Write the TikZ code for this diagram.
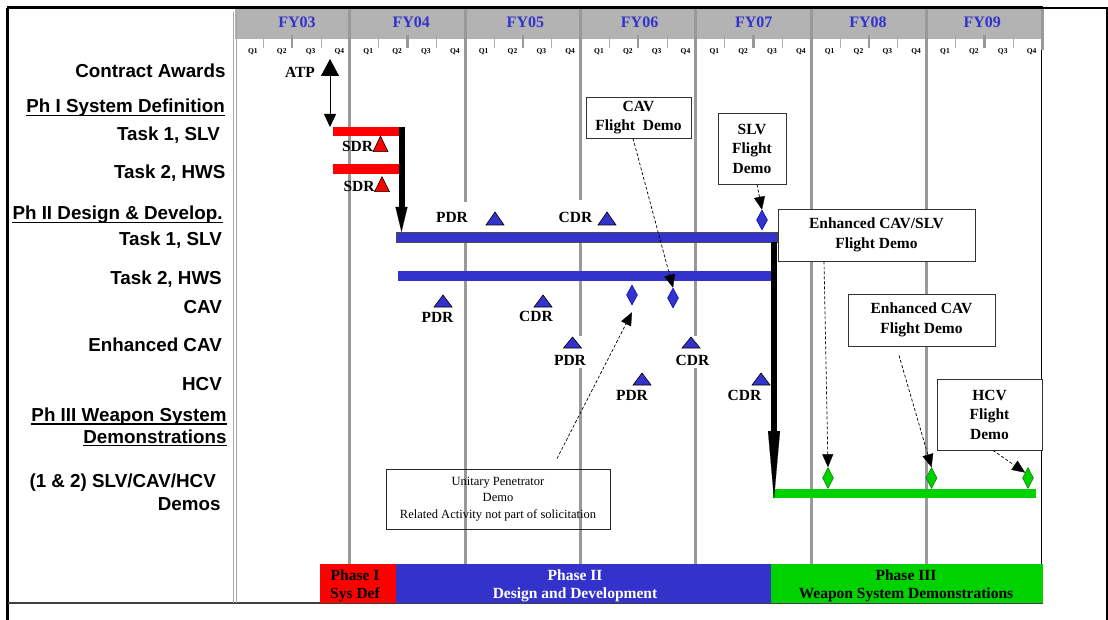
\documentclass[tikz,border=0pt]{standalone}
\usepackage{fontspec}
\setmainfont{Liberation Serif}
\newfontfamily\sansf{Liberation Sans}
\usetikzlibrary{arrows.meta,shapes.geometric}
\definecolor{pblue}{RGB}{51,51,204}
\definecolor{pgreen}{RGB}{0,210,0}
\definecolor{gridg}{RGB}{153,153,153}
\definecolor{bandg}{RGB}{179,179,179}
\newcommand\mtri[5]{\filldraw[fill=#1,draw=black,line width=0.6] ({#2-#5/2},#3) -- ({#2+#5/2},#3) -- (#2,#4) -- cycle;}
\begin{document}
\begin{tikzpicture}[x=1pt,y=-1pt,
  rowlbl/.style={anchor=base east,inner sep=0,font=\sansf\bfseries\fontsize{18.8}{22}\selectfont},
  ms/.style={anchor=base,inner sep=0,font=\bfseries\fontsize{15.5}{18}\selectfont},
  fylbl/.style={anchor=base,inner sep=0,text=pblue,font=\bfseries\fontsize{16}{18}\selectfont},
  qlbl/.style={anchor=base,inner sep=0,font=\bfseries\fontsize{7.5}{9}\selectfont},
  callout/.style={draw=black!80,line width=0.9,fill=white,align=center,inner sep=0,font=\bfseries\fontsize{15.5}{19.5}\selectfont},
  dasharrow/.style={line width=0.7,dash pattern=on 3pt off 2pt,-{Triangle[length=13pt,width=11pt,line width=0.3pt]}},
  gridl/.style={draw=gridg,line width=3},
  diam/.style={diamond,inner sep=0,minimum width=11pt,minimum height=20pt,line width=0.5},
  phbox/.style={inner sep=0,minimum height=39pt},
  phase/.style={inner sep=0,align=center,font=\bfseries\fontsize{15.5}{18}\selectfont},
  uline/.style={line width=1.8}
]
\useasboundingbox (0,0) rectangle (1108,620);
\fill[white] (0,0) rectangle (1108,620);
% frame
\draw[line width=3] (7,8) -- (1043,8);
\draw[line width=1.2] (1043,8) -- (1107,8) -- (1107,620);
\draw[line width=3] (7,8) -- (7,620);
\draw[line width=1.2,draw=black!75] (8,603) -- (1043,603);
% header band
\fill[bandg] (234.5,9) rectangle (1043,39);
\foreach \i in {0,...,6}{
  \foreach \q in {1,3}{\draw[draw=gridg!80,line width=1] ({234.5+115.35*\i+28.84*\q},35) -- ({234.5+115.35*\i+28.84*\q},48);}
  \draw[draw=gridg,line width=2.5] ({234.5+115.35*\i+57.68},35) -- ({234.5+115.35*\i+57.68},48);
}
% grid lines
\foreach \i in {1,...,6}{\draw[gridl] ({234.5+115.35*\i},9) -- ({234.5+115.35*\i},564);}
\draw[gridl] (1042,9) -- (1042,50);
\draw[line width=0.9] (1041,50) -- (1041,564);
\draw[draw=black!35,line width=1] (233,12) -- (233,603);
\draw[draw=black!35,line width=1] (236.5,12) -- (236.5,603);
% FY and Q labels
\foreach \i/\t in {0/03,1/04,2/05,3/06,4/07,5/08,6/09}{\node[fylbl] (fy\i) at ({297+114.2*\i},27.3) {FY\t};}
\foreach \i in {0,...,6}{\foreach \q in {1,...,4}{\node[qlbl] (q\i\q) at ({234.5+115.35*\i+28.84*(\q-0.5)+4},54) {Q\q};}}
% white gaps behind milestone labels
\fill[white] (436,202) rectangle (470,232);
\fill[white] (557,200) rectangle (596,232);
\fill[white] (553,336) rectangle (590,368);
\fill[white] (674,336) rectangle (711,368);
% bars
\fill[red] (333,127) rectangle (399,136);
\fill[red] (333,164) rectangle (399,174);
\filldraw[fill=pblue,draw=black!70,line width=0.8] (396,232) rectangle (777,242);
\fill[pblue] (398,271) rectangle (772,281);
\fill[pgreen] (773,489) rectangle (1036,498);
% ATP
\node[ms] (atp) at (300,78) {ATP};
\coordinate (atpT) at (330,59);
\coordinate (atpB) at (330,127);
\draw[line width=0.8,{Triangle[length=17pt,width=18pt]}-{Triangle[length=13pt,width=12pt]}] (atpT) -- (atpB);
% thick arrows
\coordinate (a1s) at (401.5,127);
\coordinate (a1e) at (401.5,232);
\draw[line width=6,-{Triangle[length=25pt,width=12pt,line width=0.1pt]}] (a1s) -- (a1e);
\coordinate (a2s) at (774,242);
\coordinate (a2e) at (774,499);
\draw[line width=6,-{Triangle[length=68pt,width=12pt,line width=0.1pt]}] (a2s) -- (a2e);
% SDR
\node[ms] (sdr1) at (357.5,151.7) {SDR};
\mtri{red}{380.5}{151.7}{136}{15}
\node[ms] (sdr2) at (359,191.5) {SDR};
\mtri{red}{382}{191.7}{176.7}{15}
% Phase II milestones
\node[ms] (pdr1) at (452,223) {PDR};
\mtri{pblue}{495}{225}{212}{18}
\node[ms] (cdr1) at (575.5,223) {CDR};
\mtri{pblue}{607}{225}{212}{18}
\mtri{pblue}{443}{307}{295}{18}
\node[ms] (pdr2) at (437.5,323) {PDR};
\mtri{pblue}{543}{307}{295}{18}
\node[ms] (cdr2) at (536,321.7) {CDR};
\mtri{pblue}{572.5}{348}{337}{18}
\node[ms] (pdr3) at (570,365) {PDR};
\mtri{pblue}{691}{348}{337}{18}
\node[ms] (cdr3) at (692.5,365) {CDR};
\mtri{pblue}{642}{385}{373}{18}
\node[ms] (pdr4) at (632,400) {PDR};
\mtri{pblue}{761}{385}{373}{18}
\node[ms] (cdr4) at (744.5,400) {CDR};
% diamonds
\node[diam,fill=pblue,draw=blue!70!black] (dslv) at (762,220) {};
\node[diam,fill=pblue,draw=blue!70!black] (dcav1) at (632,295) {};
\node[diam,fill=pblue,draw=blue!70!black] (dcav2) at (673,298) {};
\node[diam,fill=pgreen,draw=green!50!black,minimum height=21pt] (g1) at (828,478) {};
\node[diam,fill=pgreen,draw=green!50!black,minimum height=21pt] (g2) at (931.5,478) {};
\node[diam,fill=pgreen,draw=green!50!black,minimum height=21pt] (g3) at (1028,478) {};
% callouts
\node[callout,minimum width=105pt,minimum height=41pt] (cavbox) at (638.5,117.5) {CAV\\Flight~\ Demo};
\node[callout,minimum width=68pt,minimum height=71pt] (slvbox) at (752,148.5) {SLV\\Flight\\Demo};
\node[callout,minimum width=197pt,minimum height=52pt] (ecsbox) at (876.5,235) {Enhanced CAV/SLV\\Flight Demo};
\node[callout,minimum width=147pt,minimum height=52pt] (ecbox) at (921.5,320) {Enhanced CAV\\Flight Demo};
\node[callout,minimum width=105pt,minimum height=71pt] (hcvbox) at (989.5,414.5) {HCV\\Flight\\Demo};
\node[draw=black!85,line width=0.9,align=center,inner sep=0,minimum width=224pt,minimum height=60pt,font=\fontsize{12.5}{16.5}\selectfont] (upbox) at (498,499) {Unitary Penetrator\\Demo\\Related Activity not part of solicitation};
% dashed arrows
\draw[dasharrow] ([xshift=-5.5pt]cavbox.south) -- (dcav2.north);
\draw[dasharrow] ([xshift=5pt]slvbox.south) -- (dslv.north);
\draw[dasharrow] ([xshift=-52.5pt]ecsbox.south) -- (g1.north);
\draw[dasharrow] ([xshift=-22.5pt,yshift=-9pt]ecbox.south) -- (g2.north);
\draw[dasharrow] ([xshift=3.5pt]hcvbox.south) -- (g3.north west);
\draw[dasharrow] ([xshift=59pt,yshift=10pt]upbox.north) -- ([yshift=-7pt]dcav1.south);
% phase bars
\node[phbox,fill=red,minimum width=76pt] (ph1) at (358,583.5) {};
\node[phbox,fill=pblue,minimum width=375pt] (ph2) at (583.5,583.5) {};
\node[phbox,fill=pgreen,minimum width=272pt] (ph3) at (907,583.5) {};
\node[phase] (ph1t) at (355,585.5) {Phase I\\Sys Def};
\node[phase,text=white] (ph2t) at (575,585.5) {Phase II\\Design and Development};
\node[phase] (ph3t) at (906,585.5) {Phase III\\Weapon System Demonstrations};
% row labels
\node[rowlbl] (l1) at (225.7,78) {Contract Awards};
\node[rowlbl] (l2) at (225,113) {Ph I System Definition};
\node[rowlbl] (l3) at (220,141) {Task 1, SLV};
\node[rowlbl] (l4) at (225.7,179) {Task 2, HWS};
\node[rowlbl] (l5) at (222.7,220) {Ph II Design \& Develop.};
\node[rowlbl] (l6) at (222,246) {Task 1, SLV};
\node[rowlbl] (l7) at (222,285) {Task 2, HWS};
\node[rowlbl] (l8) at (222,313) {CAV};
\node[rowlbl] (l9) at (222,351.7) {Enhanced CAV};
\node[rowlbl] (l10) at (222,390.7) {HCV};
\node[rowlbl] (l11) at (226.7,421.7) {Ph III Weapon System};
\node[rowlbl] (l12) at (226.7,443) {Demonstrations};
\node[rowlbl] (l13) at (216,487) {(1 \& 2) SLV/CAV/HCV};
\node[rowlbl] (l14) at (220.7,510.7) {Demos};
\foreach \n in {l2,l5,l11,l12}{\draw[uline] ([yshift=-2.5pt]\n.base west) -- ([yshift=-2.5pt]\n.base east);}
\end{tikzpicture}
\end{document}
